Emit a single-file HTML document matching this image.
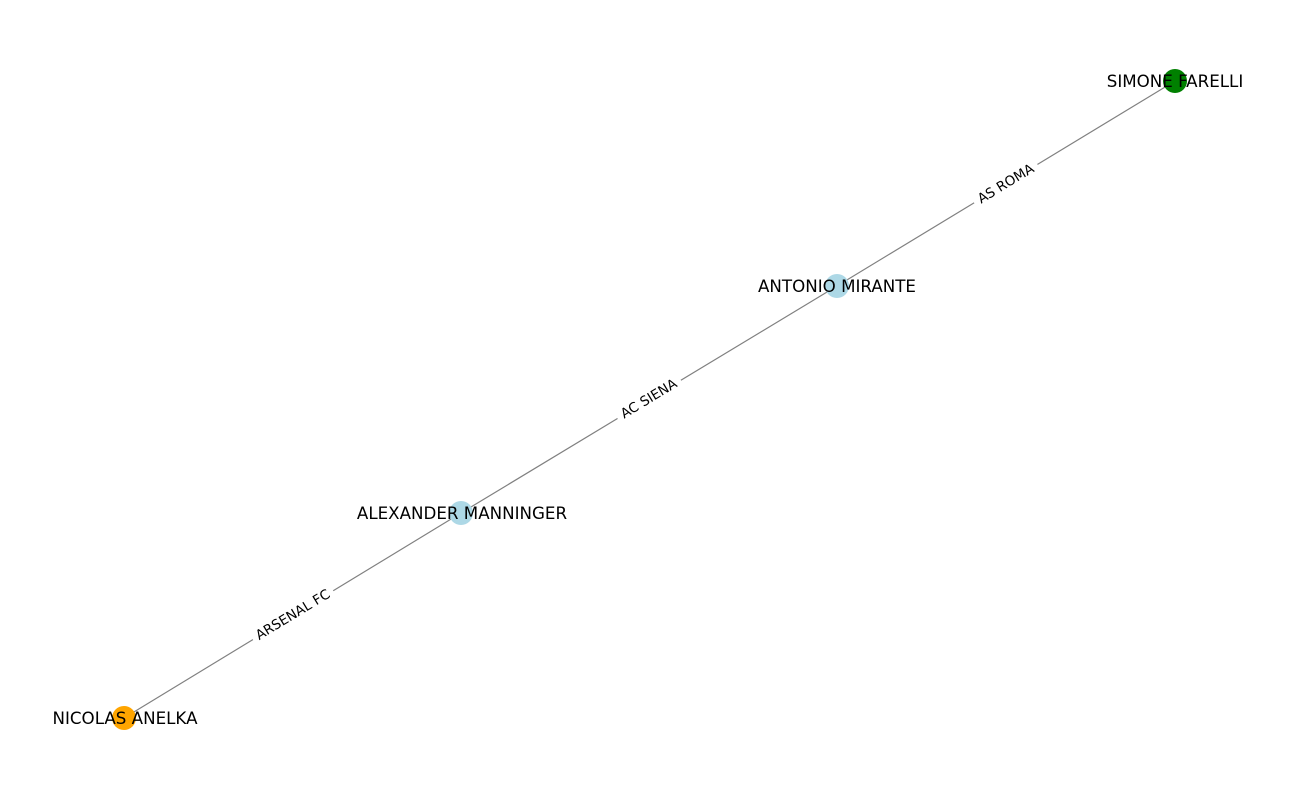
<!DOCTYPE html>
<html><head><meta charset="utf-8"><style>
html,body{margin:0;padding:0;background:#fff;}
svg{display:block;}
text{font-family:"DejaVu Sans","Liberation Sans",sans-serif;}
</style></head><body>
<svg width="1300" height="800" viewBox="0 0 1300 800" xmlns="http://www.w3.org/2000/svg">
<g stroke="#808080" stroke-width="1.2">
<line x1="1175" y1="81" x2="837" y2="286"/>
<line x1="837" y1="286" x2="461" y2="513"/>
<line x1="461" y1="513" x2="124" y2="718"/>
</g>
<g font-size="13.5" text-anchor="middle" dominant-baseline="central">
<g transform="translate(1006,184) rotate(-31.2)"><rect x="-37" y="-9" width="74" height="18" fill="#fff"/><text x="0" y="0">AS ROMA</text></g>
<g transform="translate(649,399) rotate(-31.2)"><rect x="-37" y="-9" width="74" height="18" fill="#fff"/><text x="0" y="0">AC SIENA</text></g>
<g transform="translate(293,615) rotate(-31.2)"><rect x="-47" y="-9" width="94" height="18" fill="#fff"/><text x="0" y="0">ARSENAL FC</text></g>
</g>
<circle cx="1175" cy="81" r="12" fill="#008000"/>
<circle cx="837" cy="286" r="12" fill="#add8e6"/>
<circle cx="461" cy="513" r="12" fill="#add8e6"/>
<circle cx="124" cy="718" r="12" fill="#ffa500"/>
<g font-size="16.7" text-anchor="middle" dominant-baseline="central" fill="#000">
<text x="1175" y="81">SIMONE FARELLI</text>
<text x="837" y="286">ANTONIO MIRANTE</text>
<text x="462" y="513">ALEXANDER MANNINGER</text>
<text x="125" y="718">NICOLAS ANELKA</text>
</g>
</svg>
</body></html>
